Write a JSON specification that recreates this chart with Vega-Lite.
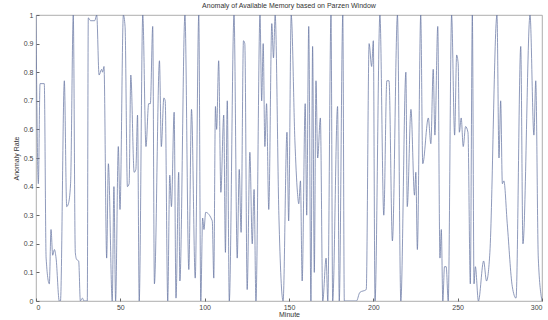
{
  "$schema": "https://vega.github.io/schema/vega-lite/v6.json",
  "autosize": {"type": "none"},
  "width": 506,
  "height": 286,
  "padding": {"left": 36, "top": 15, "right": 6, "bottom": 19},
  "background": "white",
  "title": {"text": "Anomaly of Available Memory based on Parzen Window", "fontSize": 7, "fontWeight": "normal", "font": "Liberation Sans", "color": "#333", "offset": 2, "anchor": "middle"},
  "config": {"view": {"stroke": "#999", "strokeWidth": 0.8}},
  "data": {"values": [
    {"m":0,"v":1.0},{"m":1.4,"v":0.41},{"m":2.4,"v":0.76},{"m":4.9,"v":0.76},{"m":6,"v":0.15},{"m":7.9,"v":0.06},{"m":8.9,"v":0.25},{"m":9.9,"v":0.16},{"m":10.9,"v":0.18},{"m":11.9,"v":0.15},{"m":13.8,"v":0.0},{"m":14.5,"v":0.0},{"m":16.8,"v":0.77},{"m":18.2,"v":0.33},{"m":19.2,"v":0.34},{"m":20.5,"v":0.41},{"m":22.1,"v":1.0},{"m":23.3,"v":0.17},{"m":24.1,"v":0.145},{"m":25.3,"v":0.14},{"m":26.3,"v":0.0},{"m":27.5,"v":0.01},{"m":28.5,"v":0.0},{"m":30.4,"v":0.0},{"m":31,"v":0.99},{"m":32.4,"v":0.98},{"m":34.8,"v":0.98},{"m":36,"v":1.0},{"m":37.4,"v":0.79},{"m":38.9,"v":0.81},{"m":39.5,"v":0.8},{"m":40.3,"v":0.82},{"m":41.9,"v":0.15},{"m":42.9,"v":0.48},{"m":45.2,"v":0.0},{"m":46.2,"v":0.4},{"m":47.2,"v":0.0},{"m":48.8,"v":0.54},{"m":49.8,"v":0.32},{"m":51.8,"v":1.0},{"m":52.8,"v":0.96},{"m":54.2,"v":0.4},{"m":55.2,"v":0.41},{"m":56.2,"v":0.79},{"m":58.2,"v":0.45},{"m":59.2,"v":0.46},{"m":60.2,"v":0.65},{"m":61.2,"v":0.0},{"m":63.3,"v":1.0},{"m":65.2,"v":0.54},{"m":66.8,"v":0.69},{"m":67.8,"v":0.69},{"m":69.2,"v":0.96},{"m":70.2,"v":0.06},{"m":73.2,"v":0.84},{"m":74.3,"v":0.54},{"m":75.8,"v":0.71},{"m":76.6,"v":0.7},{"m":78.1,"v":0.0},{"m":79.3,"v":0.44},{"m":80.3,"v":0.33},{"m":81.9,"v":0.66},{"m":83,"v":0.01},{"m":84.6,"v":0.45},{"m":85.3,"v":0.07},{"m":88.3,"v":1.0},{"m":90.6,"v":0.11},{"m":92.2,"v":0.67},{"m":94.4,"v":0.08},{"m":96.5,"v":1.0},{"m":97.7,"v":0.0},{"m":98.8,"v":0.29},{"m":99.6,"v":0.25},{"m":100.6,"v":0.31},{"m":104.5,"v":0.28},{"m":105.4,"v":0.08},{"m":106.4,"v":0.68},{"m":107.1,"v":0.6},{"m":108.3,"v":0.84},{"m":109.6,"v":0.38},{"m":111.3,"v":0.65},{"m":112.3,"v":0.17},{"m":113.4,"v":0.7},{"m":114.6,"v":0.0},{"m":117.4,"v":1.0},{"m":119.3,"v":0.15},{"m":120.5,"v":0.46},{"m":121.6,"v":0.24},{"m":123,"v":0.91},{"m":123.8,"v":0.9},{"m":125.2,"v":0.04},{"m":126.8,"v":0.52},{"m":128.2,"v":0.2},{"m":129.3,"v":0.39},{"m":130.4,"v":0.0},{"m":132.8,"v":1.0},{"m":133.8,"v":0.7},{"m":134.7,"v":0.9},{"m":135.7,"v":0.54},{"m":136.7,"v":0.69},{"m":138,"v":0.32},{"m":139.8,"v":0.97},{"m":140.8,"v":0.85},{"m":141.8,"v":1.0},{"m":144,"v":0.3},{"m":146.5,"v":0.0},{"m":148.8,"v":0.59},{"m":149.8,"v":0.28},{"m":151.3,"v":1.0},{"m":153.5,"v":0.56},{"m":155,"v":0.38},{"m":155.8,"v":0.34},{"m":156.8,"v":0.42},{"m":157.8,"v":0.07},{"m":159.6,"v":0.69},{"m":160.5,"v":0.3},{"m":161.7,"v":0.96},{"m":163,"v":0.0},{"m":164,"v":0.89},{"m":165,"v":0.1},{"m":166,"v":0.77},{"m":167,"v":0.5},{"m":168.6,"v":0.64},{"m":170,"v":0.0},{"m":172,"v":0.15},{"m":173,"v":0.0},{"m":174.9,"v":1.0},{"m":175.9,"v":0.0},{"m":178.8,"v":0.68},{"m":179.8,"v":0.0},{"m":181.9,"v":1.0},{"m":182.8,"v":0.0},{"m":190,"v":0.0},{"m":192,"v":0.03},{"m":195.8,"v":0.04},{"m":197.5,"v":0.9},{"m":199,"v":0.82},{"m":200,"v":0.91},{"m":201,"v":0.0},{"m":203.9,"v":1.0},{"m":206.2,"v":0.3},{"m":208,"v":0.77},{"m":209.3,"v":0.77},{"m":211.3,"v":0.21},{"m":214.3,"v":1.0},{"m":216.3,"v":0.0},{"m":219.3,"v":0.8},{"m":220.1,"v":0.33},{"m":222.3,"v":0.67},{"m":224.4,"v":0.37},{"m":225.2,"v":0.45},{"m":226.1,"v":0.18},{"m":228.1,"v":1.0},{"m":229.3,"v":0.48},{"m":232.6,"v":0.64},{"m":234.1,"v":0.55},{"m":235.5,"v":0.81},{"m":236.5,"v":0.58},{"m":238.2,"v":0.96},{"m":239.5,"v":0.15},{"m":240.3,"v":0.25},{"m":241.2,"v":0.0},{"m":242.2,"v":0.12},{"m":243.2,"v":0.12},{"m":244.4,"v":0.0},{"m":246.4,"v":1.0},{"m":248.2,"v":0.58},{"m":249.4,"v":0.86},{"m":250.3,"v":0.83},{"m":251,"v":0.59},{"m":252.1,"v":0.64},{"m":253.3,"v":0.54},{"m":254.7,"v":0.61},{"m":256.1,"v":0.59},{"m":257.5,"v":0.06},{"m":258.7,"v":1.0},{"m":259.7,"v":0.06},{"m":260.5,"v":0.12},{"m":262.3,"v":0.0},{"m":265.4,"v":0.14},{"m":267.1,"v":0.07},{"m":269.1,"v":0.17},{"m":273.3,"v":1.0},{"m":274.5,"v":0.5},{"m":275.5,"v":0.7},{"m":276.5,"v":0.41},{"m":277.4,"v":0.42},{"m":279.4,"v":0.27},{"m":282.4,"v":0.05},{"m":284.6,"v":0.01},{"m":287.4,"v":0.89},{"m":288.7,"v":0.2},{"m":292.9,"v":1.0},{"m":295.2,"v":0.58},{"m":296.3,"v":0.77},{"m":297.8,"v":0.15},{"m":300,"v":0.0}
  ]},
  "mark": {"type": "line", "color": "#6a78a4", "strokeWidth": 0.75, "interpolate": "monotone", "clip": true},
  "encoding": {
    "x": {"field": "m", "type": "quantitative", "scale": {"domain": [0, 300], "nice": false, "zero": false},
      "axis": {"title": "Minute", "values": [0, 50, 100, 150, 200, 250, 300], "grid": false, "domain": false, "tickSize": -3, "tickColor": "#666", "labelFontSize": 7, "labelFont": "Liberation Sans", "labelColor": "#444", "labelPadding": 5, "titleFontSize": 7, "titleFont": "Liberation Sans", "titleFontWeight": "normal", "titleColor": "#333", "titlePadding": 0}},
    "y": {"field": "v", "type": "quantitative", "scale": {"domain": [0, 1], "nice": false},
      "axis": {"title": "Anomaly Rate", "values": [0, 0.1, 0.2, 0.3, 0.4, 0.5, 0.6, 0.7, 0.8, 0.9, 1], "format": "~g", "grid": false, "domain": false, "tickSize": -3, "tickColor": "#666", "labelFontSize": 7, "labelFont": "Liberation Sans", "labelColor": "#444", "labelPadding": 6, "titleFontSize": 7, "titleFont": "Liberation Sans", "titleFontWeight": "normal", "titleColor": "#333", "titlePadding": 4}}
  }
}
